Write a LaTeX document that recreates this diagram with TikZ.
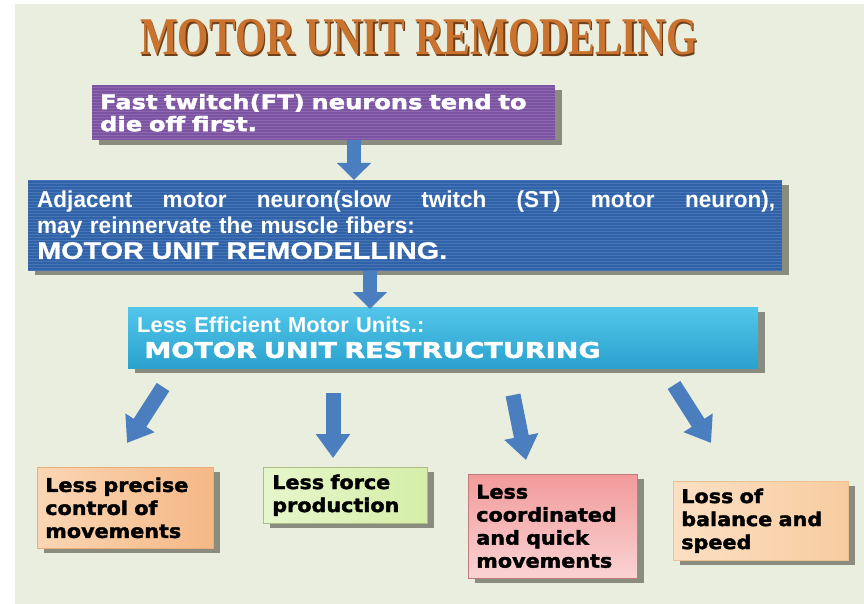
\documentclass[tikz,border=0pt]{standalone}
\usepackage{fontspec}
\setmainfont{Liberation Sans}
\newfontfamily\heavy{DejaVu Sans}
\newfontfamily\titlefont[FakeStretch=0.755]{Liberation Serif}
\usetikzlibrary{shadows,patterns,arrows.meta}
\definecolor{bg}{HTML}{EAEEDF}
\definecolor{purp}{HTML}{7C53A2}
\definecolor{bluebox}{HTML}{2F62A9}
\definecolor{cyantop}{HTML}{52C6EA}
\definecolor{cyanbot}{HTML}{2AA2CE}
\definecolor{orangeA}{HTML}{F5B886}
\definecolor{orangeL}{HTML}{FAD6B4}
\definecolor{greenA}{HTML}{D5EEA8}
\definecolor{greenL}{HTML}{E6F6CB}
\definecolor{pinkT}{HTML}{F29A9B}
\definecolor{pinkB}{HTML}{FAD3D3}
\definecolor{peach}{HTML}{F8CC9F}
\definecolor{peachL}{HTML}{FBE0C4}
\definecolor{arrowblue}{HTML}{4A7EBE}
\definecolor{shadowgray}{HTML}{8B8C80}
\definecolor{titleorange}{HTML}{C9732E}
\definecolor{titledark}{HTML}{6E3F18}
\tikzset{
  box/.style={rectangle, anchor=north west, inner xsep=8pt, inner ysep=0pt, align=left,
    drop shadow={shadow xshift=7pt, shadow yshift=-5pt, fill=shadowgray, opacity=1}},
  stripes/.style={postaction={pattern=horizontal lines, pattern color=#1}},
  whitetext/.style={text=white},
  blacktext/.style={text=black},
  bigarrow/.style={draw=arrowblue, line width=14pt, line cap=butt,
    -{Triangle[width=33pt,length=17pt]}},
  smallarrow/.style={draw=arrowblue, line width=15pt, line cap=butt,
    -{Triangle[width=33pt,length=24pt]}},
  bottomfont/.style={font={\heavy\bfseries\addfontfeature{FakeStretch=1.09,FakeBold=2}\fontsize{19}{23}\selectfont}}
}
\begin{document}
\begin{tikzpicture}[x=1pt,y=-1pt]
\useasboundingbox (0,0) rectangle (864,604);
\fill[white] (0,0) rectangle (864,604);
\fill[bg] (15,4) rectangle (864,604);

% title
\node[anchor=base west, inner sep=0pt, text=titledark, font={\titlefont\bfseries\fontsize{53}{53}\selectfont}] (titleshadow) at (141.5,56.5) {MOTOR UNIT REMODELING};
\node[anchor=base west, inner sep=0pt, text=titleorange, font={\titlefont\bfseries\fontsize{53}{53}\selectfont}] (title) at (140,55) {MOTOR UNIT REMODELING};

% purple box
\node[box, whitetext, fill=purp, stripes=purp!88!white, minimum width=463pt, minimum height=55pt, text width=447pt,
  font={\heavy\bfseries\addfontfeature{FakeStretch=1.21,FakeBold=2}\fontsize{20}{22}\selectfont}]
  (ft) at (92,85) {Fast twitch(FT) neurons tend to\\die off first.};

% blue box
\node[box, whitetext, fill=bluebox, stripes=bluebox!88!white, minimum width=752pt, minimum height=90pt, text width=736pt,
  inner xsep=9pt, font={\bfseries\addfontfeature{FakeStretch=0.98}\fontsize{23}{25.5}\selectfont}]
  (st) at (28,180) {\hbox to 738pt{Adjacent\hfill motor\hfill neuron(slow\hfill twitch\hfill (ST)\hfill motor\hfill neuron),}\\
  may reinnervate the muscle fibers:\\
  {\addfontfeature{FakeStretch=1.2,FakeBold=1}\fontsize{24}{25.5}\selectfont MOTOR UNIT REMODELLING.}};

% cyan box
\node[box, whitetext, top color=cyantop, bottom color=cyanbot, minimum width=630pt, minimum height=61pt, text width=612pt,
  inner xsep=9pt, font={\bfseries\addfontfeature{FakeStretch=1.02}\fontsize{21.5}{25}\selectfont}]
  (mu) at (128,307) {Less Efficient Motor Units.:\\
  {\heavy\addfontfeature{FakeStretch=1.26,FakeBold=2}\fontsize{21.5}{25}\selectfont\ MOTOR UNIT RESTRUCTURING}};

% bottom boxes
\node[box, blacktext, bottomfont, left color=orangeL, right color=orangeA, draw=orangeA!80!brown, line width=0.6pt,
  minimum width=176pt, minimum height=81pt, text width=160pt] (b1) at (37,467)
  {Less precise\\control of\\movements};
\node[box, blacktext, bottomfont, left color=greenL, right color=greenA, draw=greenA!80!black, line width=0.6pt,
  minimum width=162pt, minimum height=56pt, text width=146pt, inner xsep=9pt] (b2) at (263,467)
  {Less force\\production};
\node[box, blacktext, bottomfont, top color=pinkT, bottom color=pinkB, draw=pinkT!80!black, line width=0.6pt,
  minimum width=169pt, minimum height=104pt, text width=153pt] (b3) at (468,474)
  {Less\\coordinated\\and quick\\movements};
\node[box, blacktext, bottomfont, left color=peachL, right color=peach, draw=peach!85!brown, line width=0.6pt,
  minimum width=175pt, minimum height=79pt, text width=159pt] (b4) at (673,481)
  {Loss of\\balance and\\speed};

% arrow end points
\coordinate (a1s) at (354,140);
\coordinate (a1e) at (354,180);
\coordinate (a2s) at (370,271);
\coordinate (a2e) at (370,309);
\coordinate (d1s) at (163,387);
\coordinate (d1e) at (127,443);
\coordinate (d2s) at (333,393);
\coordinate (d2e) at (333,458);
\coordinate (d3s) at (513,395);
\coordinate (d3e) at (526,460);
\coordinate (d4s) at (674,385);
\coordinate (d4e) at (711,443);

\draw[bigarrow] (a1s) -- (a1e);
\draw[bigarrow] (a2s) -- (a2e);
\draw[smallarrow] (d1s) -- (d1e);
\draw[smallarrow] (d2s) -- (d2e);
\draw[smallarrow] (d3s) -- (d3e);
\draw[smallarrow] (d4s) -- (d4e);
\end{tikzpicture}
\end{document}
